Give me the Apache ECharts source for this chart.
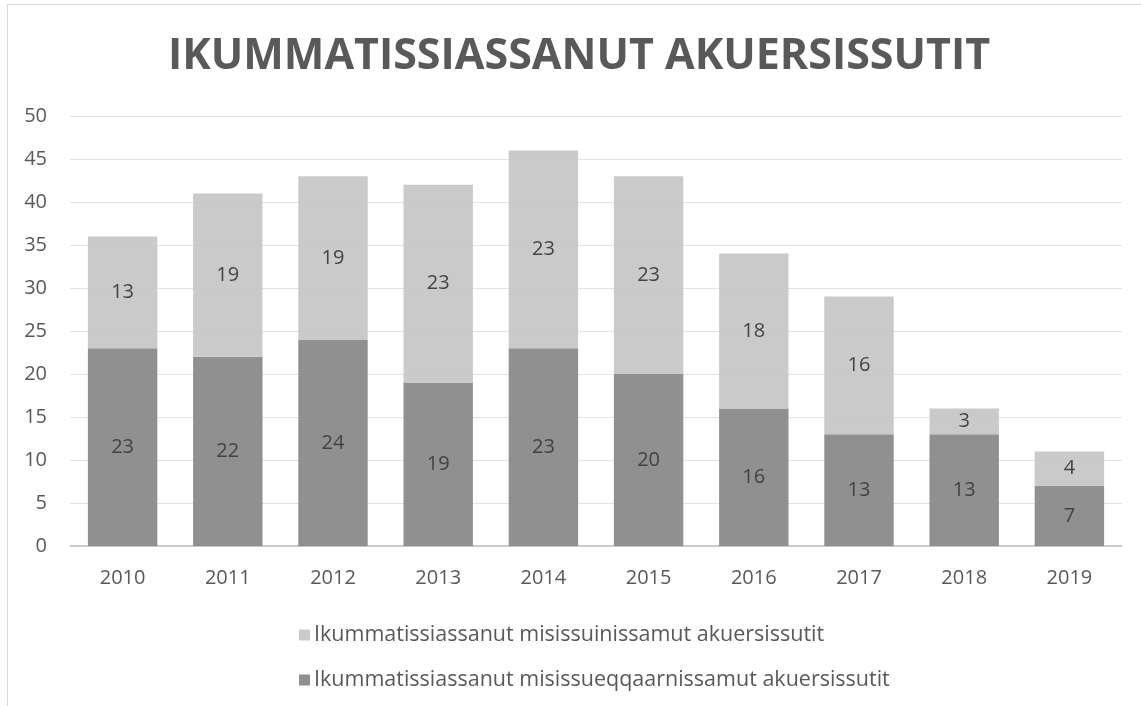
<!DOCTYPE html>
<html>
<head>
<meta charset="utf-8">
<script src="https://cdn.jsdelivr.net/npm/echarts@6/dist/echarts.min.js"></script>
<style>
  html, body { margin: 0; padding: 0; background: #fff; }
  #frame { position: absolute; left: 7px; top: 4px; width: 1140px; height: 710px; border: 1px solid #d9d9d9; box-sizing: border-box; }
  #main { position: absolute; left: 0; top: 0; width: 1141px; height: 706px; }
</style>
</head>
<body>
<div id="frame"></div>
<div id="main"></div>
<script>
var years = ["2010", "2011", "2012", "2013", "2014", "2015", "2016", "2017", "2018", "2019"];
var eqqaarnissamut = [23, 22, 24, 19, 23, 20, 16, 13, 13, 7];
var inissamut = [13, 19, 19, 23, 23, 23, 18, 16, 3, 4];
var nameLight = "Ikummatissiassanut misissuinissamut akuersissutit";
var nameDark = "Ikummatissiassanut misissueqqaarnissamut akuersissutit";

var font = "'Open Sans', 'Noto Sans', sans-serif";
var myChart = echarts.init(document.getElementById("main"));

myChart.setOption({
  animation: false,
  title: {
    text: "IKUMMATISSIASSANUT AKUERSISSUTIT",
    left: 163,
    top: 30,
    textStyle: { fontFamily: font, fontSize: 43, fontWeight: "bold", color: "#595959" }
  },
  legend: {
    orient: "vertical",
    left: 294,
    top: 619,
    itemGap: 23,
    itemWidth: 11,
    itemHeight: 11,
    icon: "rect",
    data: [nameLight, nameDark],
    textStyle: { fontFamily: font, fontSize: 21.5, color: "#595959", padding: [0, 0, 0, -1] }
  },
  grid: { left: 70, right: 19, top: 116, bottom: 160 },
  xAxis: {
    type: "category",
    data: years,
    axisTick: { show: false },
    axisLine: { lineStyle: { color: "#bfbfbf", width: 1.5 } },
    axisLabel: { fontFamily: font, fontSize: 20, color: "#595959", margin: 22 }
  },
  yAxis: {
    type: "value",
    min: 0,
    max: 50,
    interval: 5,
    axisLine: { show: false },
    axisTick: { show: false },
    splitLine: { lineStyle: { color: "#e3e3e3", width: 1 } },
    axisLabel: { fontFamily: font, fontSize: 20, color: "#595959", margin: 23 }
  },
  series: [
    {
      name: nameDark,
      type: "bar",
      stack: "total",
      barWidth: "66%",
      data: eqqaarnissamut,
      itemStyle: { color: "#8c8c8c", opacity: 0.97 },
      label: { show: true, position: "inside", fontFamily: font, fontSize: 20, color: "#404040" }
    },
    {
      name: nameLight,
      type: "bar",
      stack: "total",
      barWidth: "66%",
      data: inissamut,
      itemStyle: { color: "#c8c8c8", opacity: 0.97 },
      label: { show: true, position: "inside", fontFamily: font, fontSize: 20, color: "#404040" }
    }
  ]
});
</script>
</body>
</html>
